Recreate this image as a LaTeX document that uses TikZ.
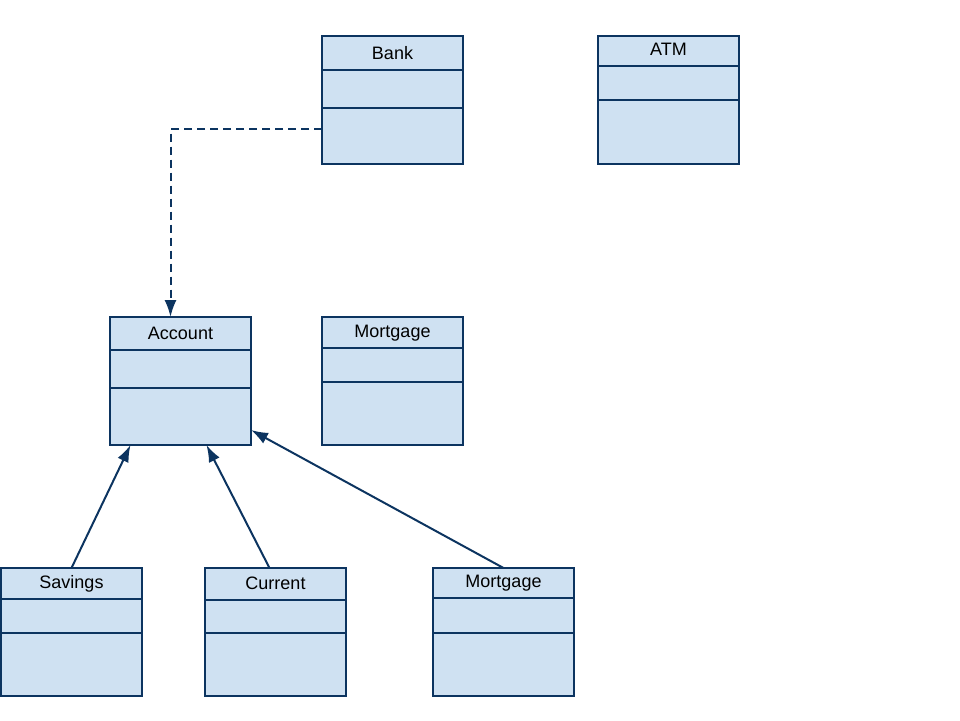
\documentclass[tikz,border=0pt]{standalone}
\usepackage{fontspec}
\setmainfont{Liberation Sans}
\usetikzlibrary{arrows.meta}
\definecolor{classfill}{RGB}{207,225,242}
\definecolor{classdraw}{RGB}{12,52,96}

\begin{document}
\begin{tikzpicture}[x=1pt,y=-1pt]
 \tikzstyle{classbox} = [draw=classdraw,fill=classfill,line width=2pt,anchor=north west,minimum width=141pt,minimum height=128pt,inner sep=0,outer sep=0]
 \tikzstyle{classname} = [anchor=base,font=\fontsize{18}{21}\selectfont,inner sep=0]
 \tikzstyle{link} = [draw=classdraw,line width=2pt,-{Latex[length=17pt,width=12pt]}]
 \newcommand{\umlclass}[6]{\node[classbox] (#1) at (#2,#3) {}; \node[classname] (#1-name) at ({#2+70.5},{#5-11}) {#4}; \draw[classbox] (#2,#5) -- ++(141,0); \draw[classbox] (#2,#6) -- ++(141,0);}
 \useasboundingbox (0,0) rectangle (960,720);

 \umlclass{bank}{322}{36}{Bank}{70}{108}
 \umlclass{atm}{598}{36}{ATM}{66}{100}
 \umlclass{account}{110}{317}{Account}{350}{388}
 \umlclass{mortgage}{322}{317}{Mortgage}{348}{382}
 \umlclass{savings}{1}{568}{Savings}{599}{633}
 \umlclass{current}{205}{568}{Current}{600}{633}
 \umlclass{loan}{433}{568}{Mortgage}{598}{633}

 \draw[link,dash pattern=on 8pt off 5pt] ([yshift=-29pt]bank.west) -| ([xshift=-10pt]account.north);
 \draw[link] (savings.north) -- ([xshift=-50pt]account.south);
 \draw[link] ([xshift=-6pt]current.north) -- ([xshift=26pt]account.south);
 \draw[link] (loan.north) -- ([yshift=-49pt]account.east);
\end{tikzpicture}
\end{document}
